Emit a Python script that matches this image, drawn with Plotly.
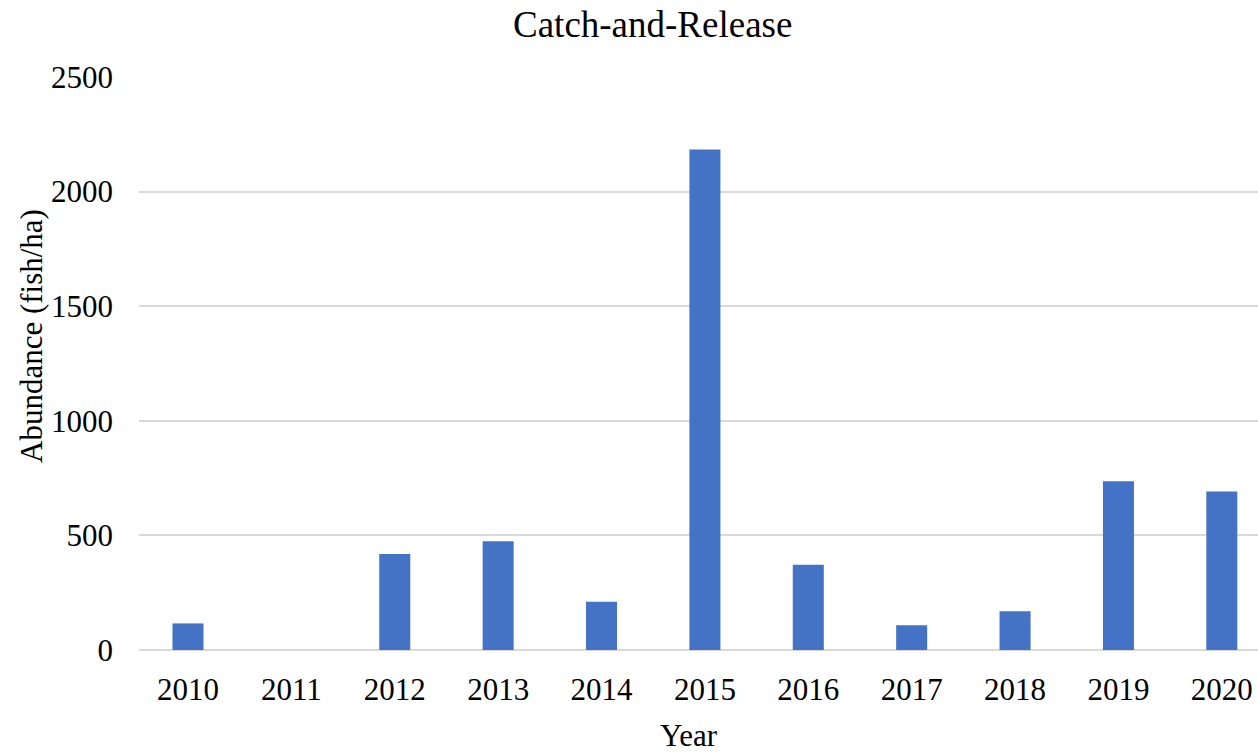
import plotly.graph_objects as go

# Catch-and-release abundance by survey year
years = ["2010", "2011", "2012", "2013", "2014", "2015",
         "2016", "2017", "2018", "2019", "2020"]
abundance = [116, 0, 419, 474, 211, 2184, 372, 108, 169, 736, 691]

y_ticks = [0, 500, 1000, 1500, 2000, 2500]

W, H = 1258, 752
LEFT, RIGHT, TOP, BOTTOM = 139, 0, 77, 102
FONT = "Liberation Serif, Times New Roman, serif"
FS = 31

fig = go.Figure(
    go.Bar(
        x=years,
        y=abundance,
        width=0.3,
        marker=dict(color="#4472C4", line=dict(width=0)),
    )
)

plot_w = W - LEFT - RIGHT
plot_h = H - TOP - BOTTOM

fig.update_layout(
    width=W,
    height=H,
    margin=dict(l=LEFT, r=RIGHT, t=TOP, b=BOTTOM, pad=0),
    paper_bgcolor="white",
    plot_bgcolor="white",
    showlegend=False,
    font=dict(family=FONT, size=FS, color="black"),
    xaxis=dict(
        type="category",
        range=[-0.474, 10.35],
        showgrid=False,
        showline=False,
        zeroline=False,
        ticks="",
        ticklabelstandoff=18,
        tickfont=dict(family=FONT, size=FS, color="black"),
    ),
    yaxis=dict(
        range=[0, 2500],
        tickvals=y_ticks,
        showgrid=True,
        gridcolor="#d9d9d9",
        gridwidth=2,
        zeroline=True,
        zerolinecolor="#d9d9d9",
        zerolinewidth=2,
        showline=False,
        ticks="",
        ticklabelstandoff=25,
        tickfont=dict(family=FONT, size=FS, color="black"),
    ),
    annotations=[
        dict(
            text="Catch-and-Release",
            xref="paper", yref="paper",
            x=(652 - LEFT) / plot_w, y=1 + (TOP - 25) / plot_h,
            xanchor="center", yanchor="middle",
            showarrow=False,
            font=dict(family=FONT, size=37, color="black"),
        ),
        dict(
            text="Year",
            xref="paper", yref="paper",
            x=(689 - LEFT) / plot_w, y=-(735 - (H - BOTTOM)) / plot_h,
            xanchor="center", yanchor="middle",
            showarrow=False,
            font=dict(family=FONT, size=FS, color="black"),
        ),
        dict(
            text="Abundance (fish/ha)",
            xref="paper", yref="paper",
            x=-(LEFT - 31) / plot_w, y=((H - BOTTOM) - 336) / plot_h,
            xanchor="center", yanchor="middle",
            textangle=-90,
            showarrow=False,
            font=dict(family=FONT, size=FS, color="black"),
        ),
    ],
)

fig.write_html("out.html")
